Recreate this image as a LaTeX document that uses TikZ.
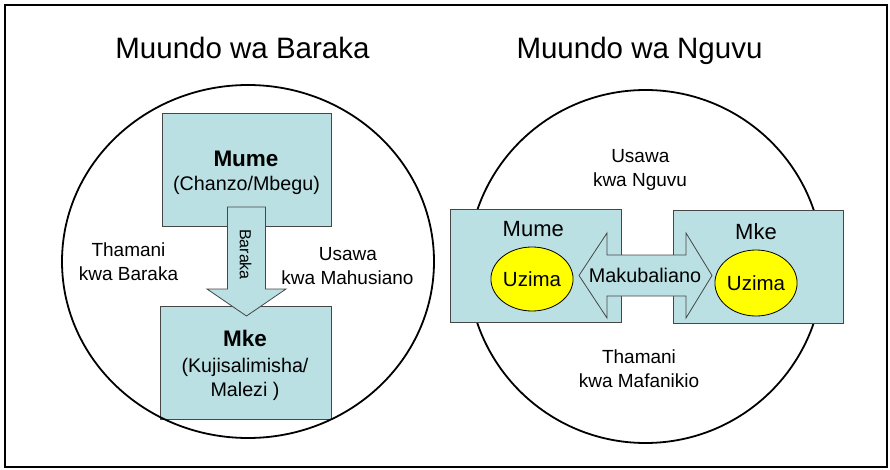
\documentclass[tikz,border=0pt]{standalone}
\usepackage{fontspec}
\setmainfont{Liberation Sans}
\usetikzlibrary{shapes.geometric}
\definecolor{boxfill}{RGB}{186,224,227}
\definecolor{boxline}{RGB}{70,70,70}
\definecolor{uzfill}{RGB}{255,255,0}
\tikzset{
  box/.style={draw=boxline, line width=0.8pt, fill=boxfill, inner sep=0pt},
  blockarrow/.style={draw=boxline, line width=0.8pt, fill=boxfill, line join=miter},
  ring/.style={draw=black, line width=1.8pt},
  txt/.style={inner sep=0pt, anchor=base, font=\fontsize{19}{23}\selectfont},
  title/.style={inner sep=0pt, anchor=base, font=\fontsize{29.5}{35}\selectfont},
  boxhead/.style={inner sep=0pt, anchor=base, font=\fontsize{22.5}{27}\selectfont\bfseries},
  boxname/.style={inner sep=0pt, anchor=base, font=\fontsize{22}{27}\selectfont},
  boxsub/.style={inner sep=0pt, anchor=base, font=\fontsize{19.7}{24}\selectfont},
  uzima/.style={ellipse, draw=black, line width=0.8pt, fill=uzfill, inner sep=0pt, font=\fontsize{20.5}{24}\selectfont}
}
\begin{document}
\begin{tikzpicture}[x=1pt,y=-1pt]
\useasboundingbox (0,0) rectangle (890,470);
\node[draw=black, line width=1.6pt, minimum width=882pt, minimum height=462pt, inner sep=0pt] (frame) at (446,236) {};

% ---------- left: Muundo wa Baraka ----------
\node[title] (titleA) at (242.5,59) {Muundo wa Baraka};
\node[box, minimum width=169pt, minimum height=113pt] (mumeA) at (246.5,169.5) {};
\node[box, minimum width=171pt, minimum height=113pt] (mkeA) at (245.5,362.5) {};
\draw[blockarrow] (227.5,207) -- (265.5,207) -- (265.5,289) -- (286,289) -- (246.5,316) -- (207,289) -- (227.5,289) -- cycle;
\draw[ring] (248,261.5) ellipse [x radius=186pt, y radius=176.5pt];
\node[boxhead] (mumeAt) at (246,166.7) {Mume};
\node[boxsub] (chanzo) at (246.5,191) {(Chanzo/Mbegu)};
\node[boxhead] (mkeAt) at (245,346.7) {Mke};
\node[boxsub] (kuji) at (245,372.7) {(Kujisalimisha/};
\node[boxsub] (malezi) at (245,396) {Malezi )};
\node[inner sep=0pt, rotate=-90, font=\fontsize{16}{19}\selectfont] (baraka) at (245.5,254.5) {Baraka};
\node[txt] (thamA1) at (128.5,256) {Thamani};
\node[txt] (thamA2) at (128.5,280) {kwa Baraka};
\node[txt] (usawaA1) at (348,260) {Usawa};
\node[txt] (usawaA2) at (347.5,284) {kwa Mahusiano};

% ---------- right: Muundo wa Nguvu ----------
\node[title] (titleB) at (639.5,59) {Muundo wa Nguvu};
\draw[ring] (645.5,266.5) ellipse [x radius=177.5pt, y radius=176.5pt];
\node[box, minimum width=171pt, minimum height=113pt] (mumeB) at (535.5,265.5) {};
\node[box, minimum width=170pt, minimum height=113pt] (mkeB) at (758,266.5) {};
\draw[blockarrow] (579,275.5) -- (607,233) -- (607,255) -- (686,255) -- (686,233) -- (712,275.5) -- (686,318) -- (686,296) -- (607,296) -- (607,318) -- cycle;
\node[inner sep=0pt, font=\fontsize{19.8}{24}\selectfont] (makub) at (645,275.5) {Makubaliano};
\node[boxname] (mumeBt) at (533.3,236) {Mume};
\node[boxname] (mkeBt) at (756,239.3) {Mke};
\node[uzima, minimum width=74pt, minimum height=64pt] (uzA) at (532,279) {Uzima};
\node[uzima, minimum width=75pt, minimum height=66pt] (uzB) at (756,283) {Uzima};
\node[txt] (usawaB1) at (640.3,162.7) {Usawa};
\node[txt] (usawaB2) at (640,186.7) {kwa Nguvu};
\node[txt] (thamB1) at (639,363.3) {Thamani};
\node[txt] (thamB2) at (639,387.3) {kwa Mafanikio};
\end{tikzpicture}
\end{document}
